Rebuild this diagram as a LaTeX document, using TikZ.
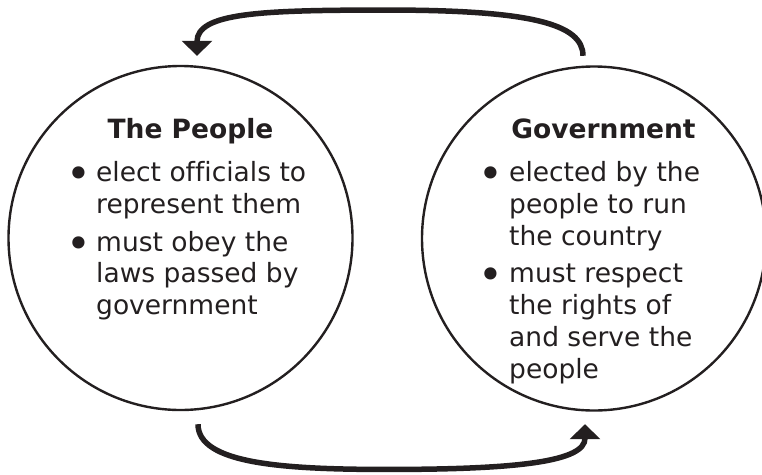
\documentclass[tikz,border=0pt]{standalone}
\usepackage{fontspec}
\setmainfont{DejaVu Sans}[Ligatures=NoCommon]
\usetikzlibrary{arrows.meta,calc}

\definecolor{ink}{HTML}{231F20}

\tikzset{
  ring/.style={circle, draw=ink, line width=2.4pt, minimum size=344pt, inner sep=0pt},
  flow/.style={draw=ink, line width=5.5pt, -{Triangle[length=15pt,width=30pt]}},
  heading/.style={anchor=base, inner sep=0pt, text=ink,
    font=\fontsize{26.5}{31.8}\selectfont\bfseries},
  txt/.style={anchor=base west, inner sep=0pt, text=ink,
    font=\fontsize{26.5}{31.8}\selectfont},
  dot/.style={anchor=base, inner sep=0pt, text=ink, yshift=-7pt,
    font=\fontsize{42}{42}\selectfont}
}

\begin{document}
\begin{tikzpicture}[x=1pt,y=-1pt]
  \path[use as bounding box] (0,0) rectangle (762,474);

  % the two circles
  \node[ring] (people) at (180.5,238) {};
  \node[ring] (gov) at (594,238.5) {};

  % end points and turning points of the two arrows
  \coordinate (gtop) at ($(gov.north)+(-11,-9.5)$);
  \coordinate (ptop) at ($(people.north)+(16.5,-9)$);
  \coordinate (topmid) at ($(people.north)!0.5!(gov.north)+(0,-55)$);
  \coordinate (pbot) at ($(people.south)+(17.5,13)$);
  \coordinate (gbot) at ($(gov.south)+(-9,12.5)$);
  \coordinate (botmid) at ($(people.south)!0.5!(gov.south)+(0,58)$);

  % Government -> The People (over the top)
  \draw[flow] (gtop) .. controls +(0,-32) and +(143,0) .. (topmid)
                     .. controls +(-127,0) and +(0,-43) .. (ptop);
  % The People -> Government (underneath)
  \draw[flow] (pbot) .. controls +(0,39) and +(-107,0) .. (botmid)
                     .. controls +(133,0) and +(0,37) .. (gbot);

  % The People
  \node[heading] (ph) at (190.5,138) {The People};
  \node[dot] (pb1) at (78.5,181.7) {•};
  \node[txt] (p1) at (96,181.7) {elect officials to};
  \node[txt] (p2) at (96,213.5) {represent them};
  \node[dot] (pb2) at (78.5,251) {•};
  \node[txt] (p3) at (96,251) {must obey the};
  \node[txt] (p4) at (96,282.8) {laws passed by};
  \node[txt] (p5) at (96,314.6) {government};

  % Government
  \node[heading] (gh) at (603.5,138) {Government};
  \node[dot] (gb1) at (491,181.7) {•};
  \node[txt] (g1) at (509,181.7) {elected by the};
  \node[txt] (g2) at (509,213.5) {people to run};
  \node[txt] (g3) at (509,245.3) {the country};
  \node[dot] (gb2) at (491,282.8) {•};
  \node[txt] (g4) at (509,282.8) {must respect};
  \node[txt] (g5) at (509,314.6) {the rights of};
  \node[txt] (g6) at (509,346.4) {and serve the};
  \node[txt] (g7) at (509,378.2) {people};
\end{tikzpicture}
\end{document}
